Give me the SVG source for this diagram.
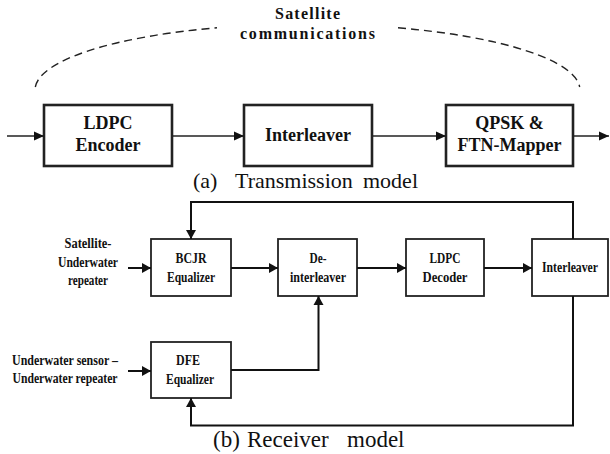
<svg xmlns="http://www.w3.org/2000/svg" width="610" height="454" viewBox="0 0 610 454">
<style>
.bg{fill:#fff}
.tbox{fill:#fff;stroke:#222;stroke-width:2.6}
.rbox{fill:#fff;stroke:#222;stroke-width:1.8}
.tline{fill:none;stroke:#222;stroke-width:1.3}
.rline{fill:none;stroke:#111;stroke-width:2}
.dash{fill:none;stroke:#222;stroke-width:1.4;stroke-dasharray:8 5}
text{font-family:'Liberation Serif','Times New Roman',Tinos,'DejaVu Serif',serif;fill:#111}
.tt{font-weight:bold;font-size:18px;text-anchor:middle}
.st{font-weight:bold;font-size:16px;text-anchor:middle}
.rt{font-weight:bold;font-size:15px;text-anchor:middle}
.cap{font-size:22px}
.capb{font-size:23px}
</style>
<defs>
<marker id="at" markerUnits="userSpaceOnUse" markerWidth="12" markerHeight="12" viewBox="0 0 12 12" refX="11" refY="6" orient="auto">
<path d="M1,1.5 L11,6 L1,10.5 Z" fill="#111"/>
</marker>
<marker id="ar" markerUnits="userSpaceOnUse" markerWidth="12" markerHeight="12" viewBox="0 0 12 12" refX="11" refY="6" orient="auto">
<path d="M2,1 L11,6 L2,11 Z" fill="#111"/>
</marker>
</defs>
<rect class="bg" x="0" y="0" width="610" height="454"/>

<g id="satellite-arc">
<path class="dash" d="M35.3 87 A272.5 66 0 0 1 217 27.8"/>
<path class="dash" d="M398 27.8 A272.5 66 0 0 1 579.7 87"/>
<text class="st" x="307.5" y="19" textLength="65" lengthAdjust="spacing">Satellite</text>
<text class="st" x="307.5" y="39" textLength="135" lengthAdjust="spacing">communications</text>
</g>

<g id="ldpc-encoder">
<rect class="tbox" x="44" y="105" width="128" height="61"/>
<text class="tt" x="108" y="129">LDPC</text>
<text class="tt" x="108" y="151">Encoder</text>
</g>
<g id="interleaver-tx">
<rect class="tbox" x="244" y="105" width="128" height="61"/>
<text class="tt" x="308" y="141">Interleaver</text>
</g>
<g id="qpsk-mapper">
<rect class="tbox" x="446" y="105" width="127" height="61"/>
<text class="tt" x="509.5" y="129">QPSK &amp;</text>
<text class="tt" x="509.5" y="151">FTN-Mapper</text>
</g>

<g id="connectors-tx">
<line class="tline" x1="7" y1="136" x2="44" y2="136" marker-end="url(#at)"/>
<line class="tline" x1="172" y1="136" x2="244" y2="136" marker-end="url(#at)"/>
<line class="tline" x1="372" y1="136" x2="446" y2="136" marker-end="url(#at)"/>
<line class="tline" x1="573" y1="136" x2="609" y2="136" marker-end="url(#at)"/>
</g>

<text class="cap" y="188"><tspan x="193">(a)</tspan><tspan x="235">Transmission</tspan><tspan x="363">model</tspan></text>

<g id="input-satellite">
<text class="rt" x="88" y="248" textLength="47" lengthAdjust="spacingAndGlyphs">Satellite-</text>
<text class="rt" x="88" y="267" textLength="60" lengthAdjust="spacingAndGlyphs">Underwater</text>
<text class="rt" x="88" y="285" textLength="40" lengthAdjust="spacingAndGlyphs">repeater</text>
</g>
<g id="input-sensor">
<text class="rt" x="65" y="365" textLength="106" lengthAdjust="spacingAndGlyphs">Underwater sensor –</text>
<text class="rt" x="65" y="383" textLength="105" lengthAdjust="spacingAndGlyphs">Underwater repeater</text>
</g>

<g id="bcjr-equalizer">
<rect class="rbox" x="151" y="239" width="80" height="57"/>
<text class="rt" x="191" y="263" textLength="31" lengthAdjust="spacingAndGlyphs">BCJR</text>
<text class="rt" x="191" y="282" textLength="48" lengthAdjust="spacingAndGlyphs">Equalizer</text>
</g>
<g id="deinterleaver">
<rect class="rbox" x="278" y="239" width="79" height="57"/>
<text class="rt" x="318" y="263" textLength="17" lengthAdjust="spacingAndGlyphs">De-</text>
<text class="rt" x="318" y="282" textLength="56" lengthAdjust="spacingAndGlyphs">interleaver</text>
</g>
<g id="ldpc-decoder">
<rect class="rbox" x="406" y="239" width="78" height="57"/>
<text class="rt" x="445" y="263" textLength="31" lengthAdjust="spacingAndGlyphs">LDPC</text>
<text class="rt" x="445" y="282" textLength="45" lengthAdjust="spacingAndGlyphs">Decoder</text>
</g>
<g id="interleaver-rx">
<rect class="rbox" x="532" y="239" width="76" height="57"/>
<text class="rt" x="570" y="272" textLength="56" lengthAdjust="spacingAndGlyphs">Interleaver</text>
</g>
<g id="dfe-equalizer">
<rect class="rbox" x="151" y="342" width="80" height="56"/>
<text class="rt" x="188" y="365" textLength="24" lengthAdjust="spacingAndGlyphs">DFE</text>
<text class="rt" x="190" y="384" textLength="48" lengthAdjust="spacingAndGlyphs">Equalizer</text>
</g>

<g id="connectors-rx">
<line class="rline" x1="128" y1="268" x2="151" y2="268" marker-end="url(#ar)"/>
<line class="rline" x1="231" y1="268" x2="278" y2="268" marker-end="url(#ar)"/>
<line class="rline" x1="357" y1="268" x2="406" y2="268" marker-end="url(#ar)"/>
<line class="rline" x1="484" y1="268" x2="532" y2="268" marker-end="url(#ar)"/>
<line class="rline" x1="128" y1="371" x2="151" y2="371" marker-end="url(#ar)"/>
<polyline class="rline" points="231,370 318.5,370 318.5,296" marker-end="url(#ar)"/>
<polyline class="rline" points="573,239 573,202 191,202 191,239" marker-end="url(#ar)"/>
<polyline class="rline" points="573,296 573,425.5 191,425.5 191,398" marker-end="url(#ar)"/>
</g>

<text class="capb" y="447"><tspan x="213">(b)</tspan><tspan x="247">Receiver</tspan><tspan x="347">model</tspan></text>
</svg>
